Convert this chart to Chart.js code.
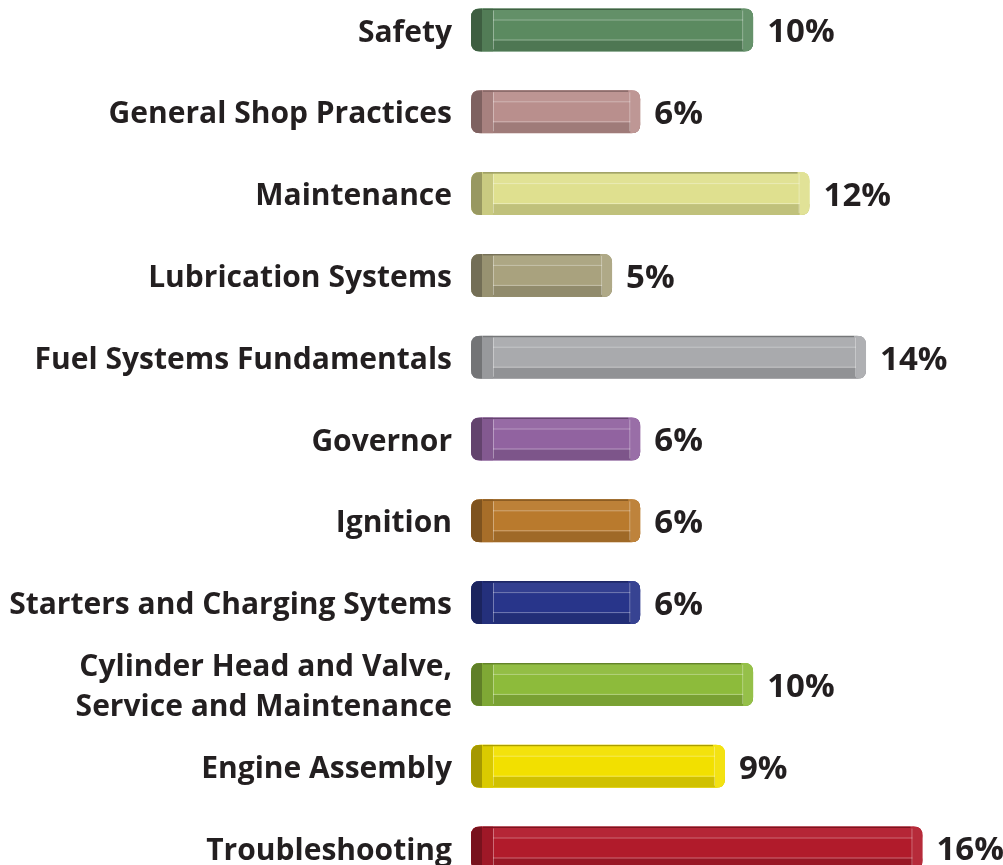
<!DOCTYPE html>
<html>
<head>
<meta charset="utf-8">
<script src="https://cdn.jsdelivr.net/npm/chart.js@4.4.1/dist/chart.umd.min.js"></script>
<style>
html,body{margin:0;padding:0;background:#fff;overflow:hidden;}
canvas{display:block;}
</style>
</head>
<body>
<canvas id="c" width="1003" height="865"></canvas>
<script>
// ---- data ----
const categories = [
  'Safety',
  'General Shop Practices',
  'Maintenance',
  'Lubrication Systems',
  'Fuel Systems Fundamentals',
  'Governor',
  'Ignition',
  'Starters and Charging Sytems',
  ['Cylinder Head and Valve,', 'Service and Maintenance'],
  'Engine Assembly',
  'Troubleshooting'
];
const values = [10, 6, 12, 5, 14, 6, 6, 6, 10, 9, 16];
const valueLabels = values.map(v => v + '%');
const barColors = ['#5b8a60', '#b98f8d', '#dfe08f', '#a9a27e', '#a9aaad', '#9163a0',
                   '#b97a2d', '#28358a', '#8dbb3b', '#f2e000', '#b11b2b'];

// ---- helpers ----
function hexToRgb(h) {
  h = h.replace('#', '');
  return [parseInt(h.substr(0,2),16), parseInt(h.substr(2,2),16), parseInt(h.substr(4,2),16)];
}
function shade(h, f) { // f<0 darken, f>0 lighten
  const c = hexToRgb(h);
  const r = c.map(v => f < 0 ? Math.round(v * (1 + f)) : Math.round(v + (255 - v) * f));
  return 'rgb(' + r.join(',') + ')';
}
function rrect(ctx, x, y, w, h, r) {
  ctx.beginPath();
  ctx.moveTo(x + r, y);
  ctx.lineTo(x + w - r, y);
  ctx.quadraticCurveTo(x + w, y, x + w, y + r);
  ctx.lineTo(x + w, y + h - r);
  ctx.quadraticCurveTo(x + w, y + h, x + w - r, y + h);
  ctx.lineTo(x + r, y + h);
  ctx.quadraticCurveTo(x, y + h, x, y + h - r);
  ctx.lineTo(x, y + r);
  ctx.quadraticCurveTo(x, y, x + r, y);
  ctx.closePath();
}

const bar3d = {
  id: 'bar3d',
  afterDatasetsDraw(chart) {
    const ctx = chart.ctx;
    const meta = chart.getDatasetMeta(0);
    meta.data.forEach((bar, i) => {
      const p = bar.getProps(['x', 'y', 'base', 'height'], true);
      const x0 = p.base, x1 = p.x, t = p.y - p.height / 2, h = p.height, b = t + h;
      const w = x1 - x0;
      const c = barColors[i];
      ctx.save();
      rrect(ctx, x0, t, w, h, 9);
      ctx.fillStyle = c;
      ctx.fill();
      ctx.clip();
      // top strip
      ctx.fillStyle = shade(c, 0.05);
      ctx.fillRect(x0, t, w, 11);
      // bottom strip
      ctx.fillStyle = shade(c, -0.14);
      ctx.fillRect(x0, b - 11, w, 11);
      // right end
      ctx.fillStyle = shade(c, 0.07);
      ctx.fillRect(x1 - 10, t, 10, h);
      // inner rim
      ctx.fillStyle = shade(c, -0.1);
      ctx.fillRect(x0 + 10, t, 12, h);
      // left cap
      ctx.fillStyle = shade(c, -0.32);
      ctx.fillRect(x0, t, 11, h);
      // top dark edge
      ctx.fillStyle = shade(c, -0.3);
      ctx.fillRect(x0 + 12, t, w - 24, 1.5);
      // light lines
      ctx.strokeStyle = 'rgba(255,255,255,0.35)';
      ctx.lineWidth = 1;
      ctx.beginPath();
      ctx.moveTo(x0 + 22, t + 11.5); ctx.lineTo(x1 - 10, t + 11.5);
      ctx.moveTo(x0 + 22, b - 11.5); ctx.lineTo(x1 - 10, b - 11.5);
      ctx.moveTo(x0 + 22.5, t + 2); ctx.lineTo(x0 + 22.5, b - 2);
      ctx.moveTo(x1 - 10.5, t + 2); ctx.lineTo(x1 - 10.5, b - 2);
      ctx.stroke();
      ctx.restore();
      // value label
      ctx.save();
      ctx.font = 'bold 33px "Open Sans"';
      ctx.fillStyle = '#231f20';
      ctx.textAlign = 'left';
      ctx.textBaseline = 'middle';
      ctx.fillText(valueLabels[i], x1 + 14, p.y + 3);
      ctx.restore();
    });
  }
};

new Chart(document.getElementById('c'), {
  type: 'bar',
  data: {
    labels: categories,
    datasets: [{
      data: values,
      backgroundColor: 'rgba(0,0,0,0)',
      borderWidth: 0,
      barThickness: 43,
      clip: false
    }]
  },
  options: {
    indexAxis: 'y',
    responsive: false,
    animation: false,
    devicePixelRatio: 1,
    layout: { padding: { top: 30, bottom: 17, left: 0, right: 10 } },
    plugins: { legend: { display: false }, tooltip: { enabled: false } },
    scales: {
      x: { min: 0, max: 18.5, display: false },
      y: {
        offset: false,
        grid: { display: false, drawTicks: false },
        border: { display: false },
        afterFit(scale) {
          scale.width = 471;
          scale.paddingTop = 0;
          scale.paddingBottom = 0;
        },
        ticks: {
          autoSkip: false,
          padding: 19,
          labelOffset: 3,
          color: '#231f20',
          font: { family: 'Open Sans', weight: 'bold', size: 30, lineHeight: 1.33 }
        }
      }
    }
  },
  plugins: [bar3d]
});
</script>
</body>
</html>
